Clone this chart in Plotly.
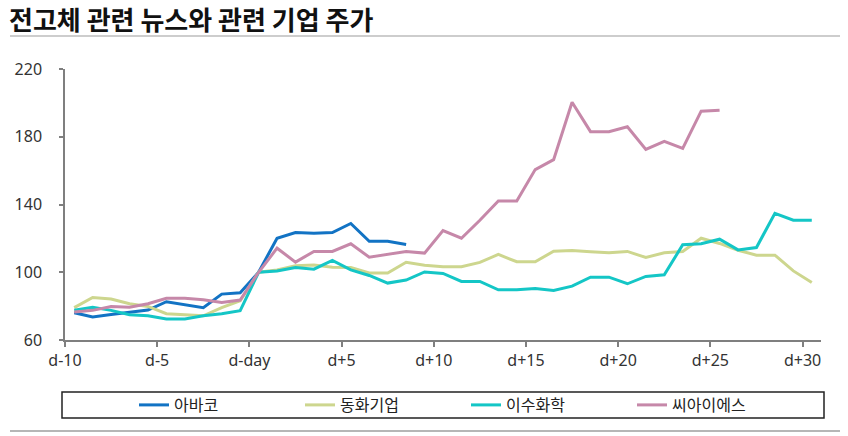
import plotly.graph_objects as go

# days relative to the news day
days = list(range(-10, 31))
tick_days = [-10, -5, 0, 5, 10, 15, 20, 25, 30]
tick_text = ['d-10', 'd-5', 'd-day', 'd+5', 'd+10', 'd+15', 'd+20', 'd+25', 'd+30']

abaco = [76.1, 73.6, 75.0, 76.3, 77.7, 82.6, 80.9, 79.1, 87.1, 87.9,
         100, 120.1, 123.4, 123.0, 123.4, 128.8, 118.3, 118.3, 116.4]
donghwa = [79.1, 85.1, 84.2, 81.4, 79.8, 75.5, 74.9, 74.3, 79.1, 83.2,
           100, 101.3, 103.9, 104.3, 102.9, 102.8, 99.6, 99.6, 105.9, 104.2,
           103.2, 103.2, 105.8, 110.5, 106.2, 106.2, 112.4, 112.8, 112.1, 111.5,
           112.3, 108.7, 111.5, 112.3, 120.1, 117.0, 113.0, 110.1, 110.1, 100.8, 94.0]
isu = [77.6, 79.3, 77.5, 74.9, 74.3, 72.4, 72.4, 74.3, 75.5, 77.3,
       100, 100.8, 102.8, 101.8, 107.0, 101.4, 98.1, 93.6, 95.4, 100.2,
       99.3, 94.6, 94.6, 89.6, 89.6, 90.4, 89.3, 91.8, 97.1, 97.1,
       93.2, 97.5, 98.5, 116.2, 116.8, 119.5, 113.2, 114.6, 134.8, 130.7, 130.7]
cis = [76.5, 77.5, 79.8, 79.3, 81.4, 84.6, 84.6, 83.8, 82.2, 83.6,
       100, 114.2, 106.0, 112.3, 112.3, 116.8, 108.9, 110.7, 112.3, 111.3,
       124.6, 120.1, 130.7, 142.1, 142.1, 160.6, 166.5, 200.4, 183.0, 183.0,
       185.9, 172.5, 177.3, 173.1, 195.1, 195.7]

names = ['아바코', '동화기업', '이수화학', '씨아이에스']
series = [abaco, donghwa, isu, cis]
colors = ['#1273c4', '#cdd68e', '#14c6c6', '#c688a9']

W, H = 848, 436
L, R, T, B = 65, 821, 69, 340


def px(x):
    return (x - L) / (R - L)


def py(y):
    return (B - y) / (B - T)


fig = go.Figure()
for name, vals, c in zip(names, series, colors):
    fig.add_trace(go.Scatter(x=days[:len(vals)], y=vals, name=name, mode='lines',
                             line=dict(color=c, width=3)))

axis_font = dict(family='Noto Sans, Open Sans, sans-serif', size=16, color='#333333')

fig.update_xaxes(range=[-10.5, 30.5], tickvals=[d - 0.5 for d in tick_days], ticktext=tick_text,
                 showgrid=False, zeroline=False, showline=True, linecolor='#7f7f7f', linewidth=1.5,
                 ticks='outside', ticklen=5, tickcolor='#7f7f7f', tickwidth=1.5, tickfont=axis_font)
fig.update_yaxes(range=[60, 220], tickvals=[60, 100, 140, 180, 220],
                 showgrid=False, zeroline=False, showline=True, linecolor='#7f7f7f', linewidth=1.5,
                 ticks='outside', ticklen=4, tickcolor='#7f7f7f', tickwidth=1.5, tickfont=axis_font,
                 ticklabelstandoff=14)

# rules above and below the chart, box round the legend
fig.add_shape(type='line', xref='paper', yref='paper', x0=px(10), x1=px(840), y0=py(36), y1=py(36),
              line=dict(color='#bdbdbd', width=1.5))
fig.add_shape(type='line', xref='paper', yref='paper', x0=px(10), x1=px(840), y0=py(431), y1=py(431),
              line=dict(color='#9e9e9e', width=1.5))
fig.add_shape(type='rect', xref='paper', yref='paper', x0=px(62), x1=px(824), y0=py(392), y1=py(418),
              line=dict(color='#222222', width=1.5))

fig.update_layout(
    width=W, height=H,
    margin=dict(l=L, r=W - R, t=T, b=H - B, autoexpand=False),
    plot_bgcolor='white', paper_bgcolor='white',
    title=dict(text='<b>전고체 관련 뉴스와 관련 기업 주가</b>', xref='container', yref='container',
               x=9 / W, y=1 - 21 / H, xanchor='left', yanchor='middle',
               font=dict(family='Noto Sans CJK KR', size=26, color='#111111')),
    legend=dict(orientation='h', x=px(134), y=py(405), xanchor='left', yanchor='middle',
                entrywidth=121, entrywidthmode='pixels', bgcolor='rgba(0,0,0,0)',
                font=dict(family='Noto Sans CJK KR', size=16, color='#222222')),
)

fig.write_html('out.html', config={'displayModeBar': False},
               post_script="document.body.style.margin='0';")
